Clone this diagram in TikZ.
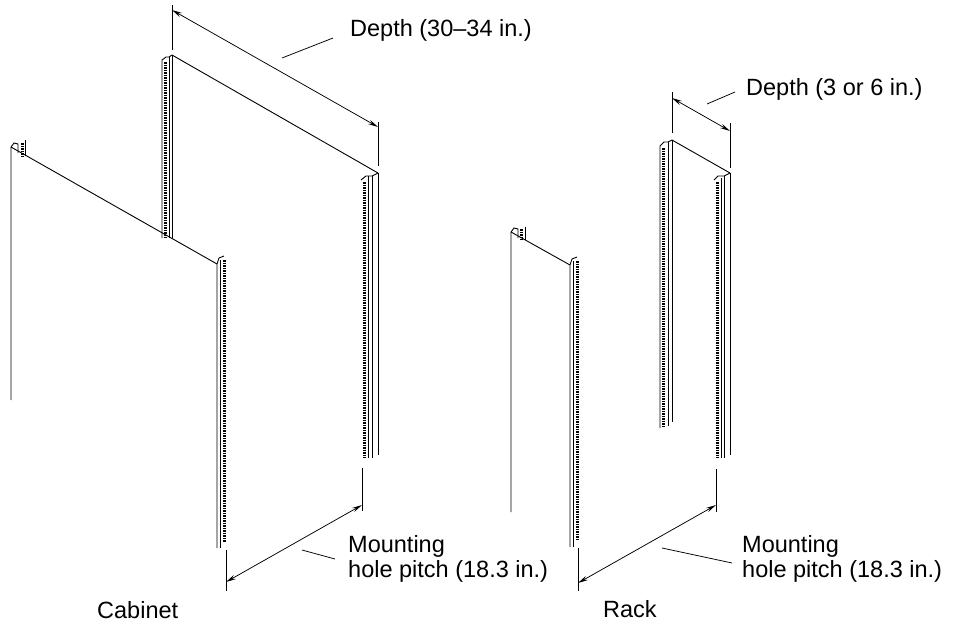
\documentclass[tikz,border=0pt]{standalone}
\usepackage{fontspec}
\setmainfont{Liberation Sans}
\usetikzlibrary{arrows.meta}

\begin{document}
\begin{tikzpicture}[x=1pt,y=-1pt,>={Stealth[length=10pt,width=4.5pt]},
  rail/.style={line width=0.9pt},
  holes/.style={line width=3pt,dash pattern=on 1.5pt off 1pt,black},
  dim/.style={<->,line width=0.75pt},
  extn/.style={line width=0.75pt},
  lbl/.style={anchor=base west,inner sep=0pt,font=\fontsize{23.5}{25}\selectfont}]
\useasboundingbox (0,0) rectangle (963,627);
% cabinet, front pair of rails
\draw[rail] (11,400) -- (11,147) -- (14,143) -- (18,144) -- (18,153);
\draw[holes] (22,143) -- (22,156);
\draw[rail] (25,140) -- (25,156);
\draw[rail] (11,147) -- (217,264);
\draw[rail] (217,548) -- (217,264) -- (219,258) -- (224,256);
\draw[rail] (220,260) -- (220,548);
\draw[holes] (224,260) -- (224,542);
% cabinet, rear pair of rails
\draw[rail] (162,238) -- (162,60) -- (166,57) -- (169,57) -- (172,55);
\draw[holes] (165.5,62) -- (165.5,238);
\draw[rail] (169,57) -- (169,238);
\draw[rail] (172,55) -- (172,238);
\draw[rail] (172,55) -- (378,173);
\draw[rail] (378,173) -- (378,455);
\draw[rail] (361,180) -- (366,176) -- (372,176) -- (378,173);
\draw[rail] (372,176) -- (372,458);
\draw[rail] (368,176) -- (368,458);
\draw[holes] (364,182) -- (364,458);
% rack, front pair
\draw[rail] (511,512) -- (511,232) -- (514,228) -- (518,229) -- (518,238);
\draw[holes] (521,229) -- (521,240);
\draw[rail] (525,227) -- (525,240);
\draw[rail] (511,232) -- (570,265);
\draw[rail] (570,547) -- (570,265) -- (572,259) -- (577,257);
\draw[rail] (573,261) -- (573,547);
\draw[holes] (577,261) -- (577,541);
% rack, rear pair
\draw[rail] (660,428) -- (660,146) -- (664,142) -- (668,142) -- (672,140);
\draw[holes] (663.5,148) -- (663.5,428);
\draw[rail] (668,142) -- (668,426);
\draw[rail] (672,140) -- (672,422);
\draw[rail] (672,140) -- (730,173);
\draw[rail] (730,173) -- (730,455);
\draw[rail] (714,180) -- (718,176) -- (724,176) -- (730,173);
\draw[rail] (724,176) -- (724,458);
\draw[rail] (721,178) -- (721,458);
\draw[holes] (717,182) -- (717,458);

% dimension points
\coordinate (cdA) at (172,10);
\coordinate (cdB) at (378,127);
\coordinate (cwA) at (226,582);
\coordinate (cwB) at (362,505);
\coordinate (rdA) at (672,98);
\coordinate (rdB) at (730,131);
\coordinate (rwA) at (578,583);
\coordinate (rwB) at (716,505);

% cabinet depth
\draw[extn] (172,5) -- (172,50);
\draw[extn] (378,122) -- (378,166);
\draw[dim] (cdA) -- (cdB);
\node[lbl] (cdepth) at (350,36) {Depth (30--34 in.)};
\draw[extn] (282,58) -- (333,38);
% cabinet pitch
\draw[extn] (226,550) -- (226,591);
\draw[extn] (362,468) -- (362,511);
\draw[dim] (cwA) -- (cwB);
\draw[extn] (302,550) -- (335,559);
\node[lbl] (cmount) at (348,552) {Mounting};
\node[lbl] (cpitch) at (348,577) {hole pitch (18.3 in.)};
% rack depth
\draw[extn] (672,92) -- (672,133);
\draw[extn] (730,123) -- (730,168);
\draw[dim] (rdA) -- (rdB);
\draw[extn] (707,104) -- (735,92);
\node[lbl] (rdepth) at (746,95) {Depth (3 or 6 in.)};
% rack pitch
\draw[extn] (578,548) -- (578,591);
\draw[extn] (716,469) -- (716,512);
\draw[dim] (rwA) -- (rwB);
\draw[extn] (662,548) -- (732,563);
\node[lbl] (rmount) at (742,552) {Mounting};
\node[lbl] (rpitch) at (742,577) {hole pitch (18.3 in.)};

\node[lbl] (cablbl) at (97,618) {Cabinet};
\node[lbl] (racklbl) at (603,617) {Rack};
\end{tikzpicture}
\end{document}
